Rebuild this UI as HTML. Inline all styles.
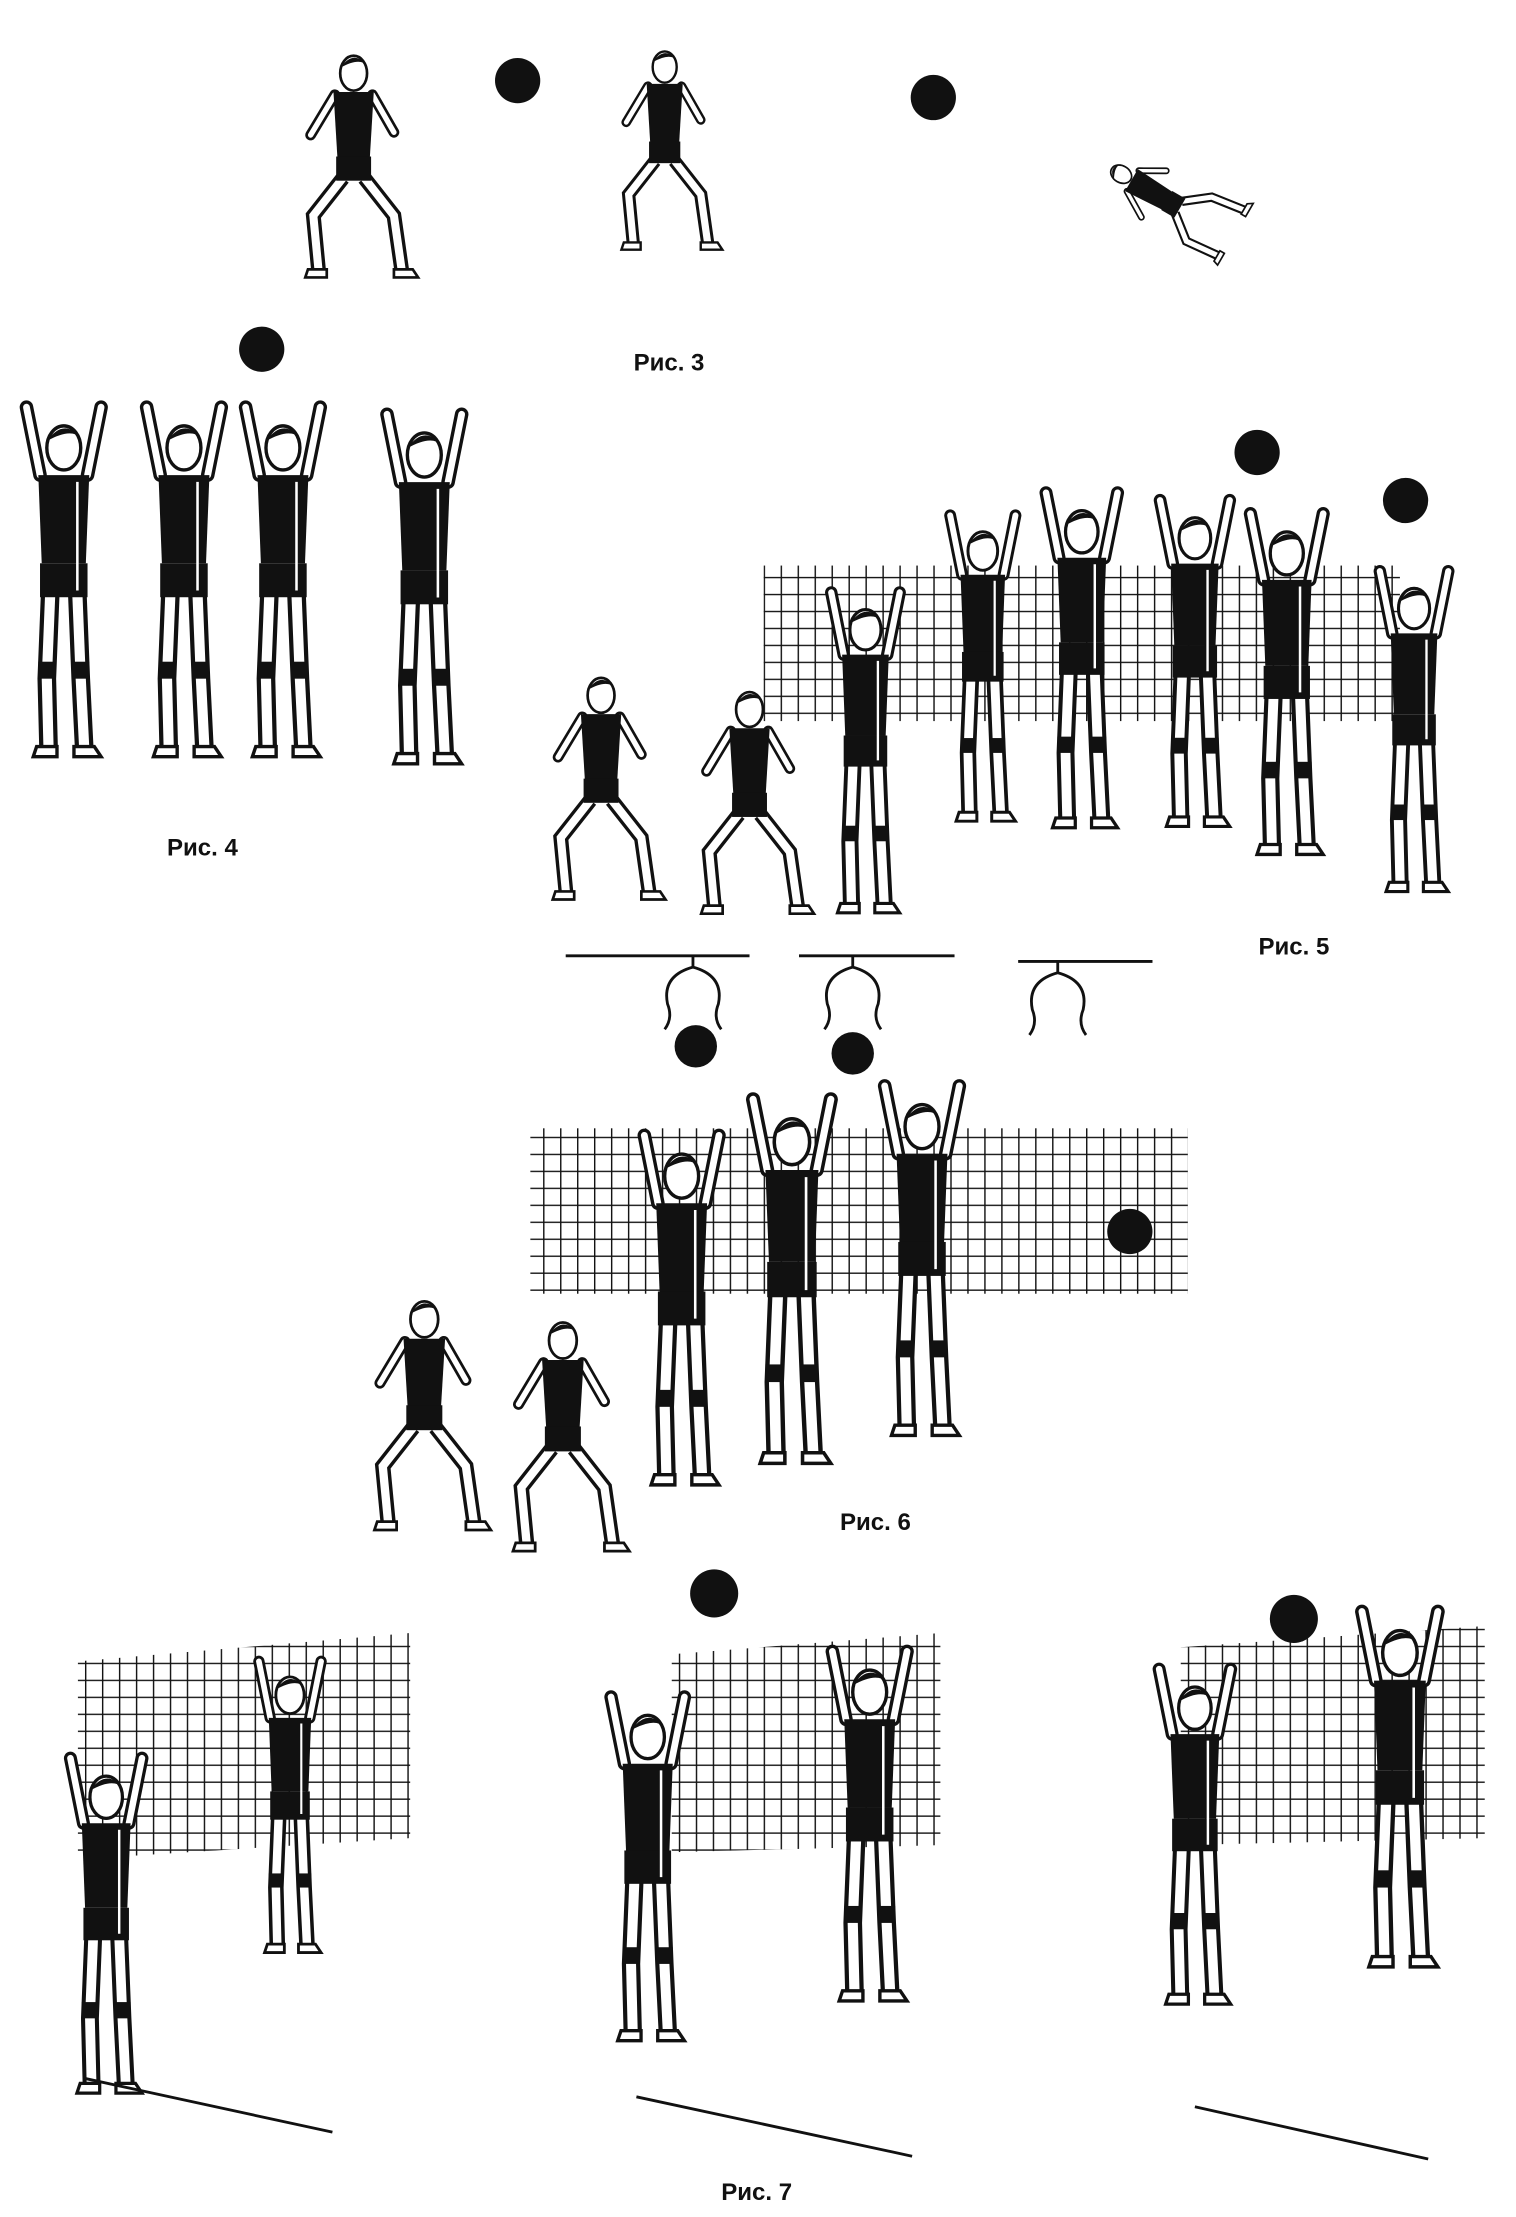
<!DOCTYPE html>
<html><head><meta charset="utf-8"><style>
html,body{margin:0;padding:0;background:#fff;}
svg{display:block;}
text{font-family:"Liberation Sans","DejaVu Sans",sans-serif;font-weight:bold;font-size:17px;fill:#111;}
</style></head><body>
<svg width="1516" height="2217" viewBox="0 0 1072 1568" xmlns="http://www.w3.org/2000/svg">
<defs>
<pattern id="grid" width="12" height="12" patternUnits="userSpaceOnUse">
<path d="M0 0H12M0 0V12" stroke="#111" stroke-width="2" fill="none"/>
</pattern>
<g id="up">
<path d="M-14 30 L-22 -10 M14 30 L22 -10" stroke="#111" stroke-width="8" fill="none" stroke-linecap="round"/>
<path d="M-14 30 L-22 -10 M14 30 L22 -10" stroke="#fff" stroke-width="4" fill="none" stroke-linecap="round"/>
<path d="M-8 100 L-10 150 L-9 190 M8 100 L10 150 L12 190" stroke="#111" stroke-width="11" fill="none"/>
<path d="M-8 100 L-10 150 L-9 190 M8 100 L10 150 L12 190" stroke="#fff" stroke-width="6" fill="none"/>
<rect x="-15" y="140" width="10" height="10" fill="#111"/><rect x="5" y="140" width="10" height="10" fill="#111"/>
<path d="M-16 190 h12 v6 h-14z M6 190 h12 l4 6 h-16z" fill="#fff" stroke="#111" stroke-width="2"/>
<path d="M-15 30 L15 30 L13 82 L-13 82Z" fill="#111"/>
<rect x="-14" y="82" width="28" height="20" fill="#111"/>
<line x1="8" y1="34" x2="8" y2="98" stroke="#fff" stroke-width="1.5"/>
<ellipse cx="0" cy="14" rx="10" ry="13" fill="#fff" stroke="#111" stroke-width="2"/>
<path d="M-10 10 Q0 -4 10 8 Q4 2 -10 10Z" fill="#111"/>
</g>
<g id="crouch">
<path d="M-14 60 L-32 90 M14 60 L30 88" stroke="#111" stroke-width="8" fill="none" stroke-linecap="round"/>
<path d="M-14 60 L-32 90 M14 60 L30 88" stroke="#fff" stroke-width="4" fill="none" stroke-linecap="round"/>
<path d="M-8 122 L-30 150 L-26 192 M8 122 L30 150 L36 192" stroke="#111" stroke-width="11" fill="none"/>
<path d="M-8 122 L-30 150 L-26 192 M8 122 L30 150 L36 192" stroke="#fff" stroke-width="6" fill="none"/>
<path d="M-34 190 h14 v6 h-16z M30 190 h14 l4 6 h-18z" fill="#fff" stroke="#111" stroke-width="2"/>
<path d="M-15 58 L15 58 L12 108 L-12 108Z" fill="#111"/>
<rect x="-13" y="106" width="26" height="18" fill="#111"/>
<ellipse cx="0" cy="44" rx="10" ry="13" fill="#fff" stroke="#111" stroke-width="2"/>
<path d="M-10 40 Q0 26 10 38 Q4 32 -10 40Z" fill="#111"/>
</g>
</defs>

<!-- Fig 3 -->
<use href="#crouch" transform="translate(250,10) scale(0.95)"/>
<use href="#crouch" transform="translate(470,10) scale(0.85)"/>
<g transform="translate(770,110) rotate(-60) scale(0.6)"><use href="#crouch"/></g>
<circle cx="366" cy="57" r="16" fill="#111"/>
<circle cx="660" cy="69" r="16" fill="#111"/>
<text x="448" y="262">Рис. 3</text>

<!-- Fig 4 -->
<use href="#up" transform="translate(45,300) scale(1.2)"/>
<use href="#up" transform="translate(130,300) scale(1.2)"/>
<use href="#up" transform="translate(200,300) scale(1.2)"/>
<use href="#up" transform="translate(300,305) scale(1.2)"/>
<circle cx="185" cy="247" r="16" fill="#111"/>
<text x="118" y="605">Рис. 4</text>

<!-- Fig 5 -->
<rect x="540" y="400" width="450" height="110" fill="url(#grid)"/>
<use href="#crouch" transform="translate(425,450) scale(0.95)"/>
<use href="#crouch" transform="translate(530,460) scale(0.95)"/>
<use href="#up" transform="translate(612,430) scale(1.1)"/>
<use href="#up" transform="translate(695,375) scale(1.05)"/>
<use href="#up" transform="translate(765,360) scale(1.15)"/>
<use href="#up" transform="translate(845,365) scale(1.12)"/>
<use href="#up" transform="translate(910,375) scale(1.17)"/>
<use href="#up" transform="translate(1000,415) scale(1.1)"/>
<circle cx="889" cy="320" r="16" fill="#111"/>
<circle cx="994" cy="354" r="16" fill="#111"/>
<text x="890" y="675">Рис. 5</text>

<!-- Fig 6 lamps -->
<g stroke="#111" stroke-width="2" fill="none">
<path d="M400 676H530M565 676H675M720 680H815"/>
<path d="M490 676v8 q-22 6 -18 26 q4 10 -2 18 M490 684 q22 6 18 26 q-4 10 2 18"/>
<path d="M603 676v8 q-22 6 -18 26 q4 10 -2 18 M603 684 q22 6 18 26 q-4 10 2 18"/>
<path d="M748 680v8 q-22 6 -18 26 q4 10 -2 18 M748 688 q22 6 18 26 q-4 10 2 18"/>
</g>
<circle cx="492" cy="740" r="15" fill="#111"/>
<circle cx="603" cy="745" r="15" fill="#111"/>
<rect x="375" y="798" width="465" height="117" fill="url(#grid)"/>
<use href="#crouch" transform="translate(300,890) scale(0.98)"/>
<use href="#crouch" transform="translate(398,905) scale(0.98)"/>
<use href="#up" transform="translate(482,815) scale(1.2)"/>
<use href="#up" transform="translate(560,790) scale(1.25)"/>
<use href="#up" transform="translate(652,780) scale(1.2)"/>
<circle cx="799" cy="871" r="16" fill="#111"/>
<text x="594" y="1082">Рис. 6</text>

<!-- Fig 7 -->
<polygon points="55,1175 290,1155 290,1300 55,1315" fill="url(#grid)"/>
<polygon points="475,1170 665,1155 665,1305 475,1310" fill="url(#grid)"/>
<polygon points="835,1165 1050,1150 1050,1300 835,1305" fill="url(#grid)"/>
<use href="#up" transform="translate(75,1255) scale(1.15)"/>
<use href="#up" transform="translate(205,1185) scale(1.0)"/>
<use href="#up" transform="translate(458,1212) scale(1.18)"/>
<use href="#up" transform="translate(615,1180) scale(1.2)"/>
<use href="#up" transform="translate(845,1192) scale(1.15)"/>
<use href="#up" transform="translate(990,1152) scale(1.22)"/>
<g stroke="#111" stroke-width="2">
<line x1="60" y1="1470" x2="235" y2="1508"/>
<line x1="450" y1="1483" x2="645" y2="1525"/>
<line x1="845" y1="1490" x2="1010" y2="1527"/>
</g>
<circle cx="505" cy="1127" r="17" fill="#111"/>
<circle cx="915" cy="1145" r="17" fill="#111"/>
<text x="510" y="1556">Рис. 7</text>
</svg>
</body></html>
